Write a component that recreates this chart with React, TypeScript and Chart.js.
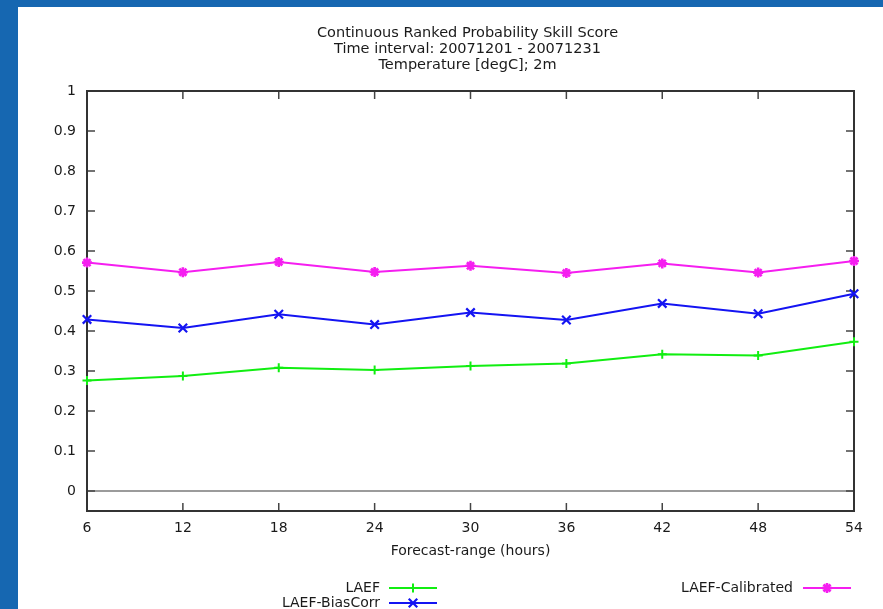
import React, { useEffect, useRef } from "react";
import { Chart, registerables } from "chart.js";

Chart.register(...registerables);

// Forecast ranges (hours) and CRPSS per system
const HOURS = [6, 12, 18, 24, 30, 36, 42, 48, 54];
const LAEF = [0.276, 0.2875, 0.308, 0.3025, 0.3125, 0.319, 0.342, 0.339, 0.373];
const LAEF_BIASCORR = [0.429, 0.4075, 0.442, 0.416, 0.446, 0.4275, 0.469, 0.443, 0.493];
const LAEF_CALIBRATED = [0.571, 0.547, 0.5725, 0.5475, 0.563, 0.545, 0.569, 0.546, 0.575];

const X_TICKS = [6, 12, 18, 24, 30, 36, 42, 48, 54];
const Y_TICKS = [0, 0.1, 0.2, 0.3, 0.4, 0.5, 0.6, 0.7, 0.8, 0.9, 1];

const TITLE_LINES = [
  "Continuous Ranked Probability Skill Score",
  "Time interval: 20071201 - 20071231",
  "Temperature [degC]; 2m",
];
const X_TITLE = "Forecast-range (hours)";

const FONT_FAMILY = '"DejaVu Sans", sans-serif';
const TEXT_COLOR = "#1a1a1a";

function drawMarker(ctx: CanvasRenderingContext2D, style: string, x: number, y: number, r: number) {
  ctx.beginPath();
  const d = r * Math.SQRT1_2;
  if (style === "cross" || style === "star") {
    ctx.moveTo(x - r, y);
    ctx.lineTo(x + r, y);
    ctx.moveTo(x, y - r);
    ctx.lineTo(x, y + r);
  }
  if (style === "crossRot" || style === "star") {
    ctx.moveTo(x - d, y - d);
    ctx.lineTo(x + d, y + d);
    ctx.moveTo(x - d, y + d);
    ctx.lineTo(x + d, y - d);
  }
  ctx.stroke();
}

// Frame, inward ticks, zero line, multi-line title and a two-column legend
const decorPlugin = {
  id: "decor",
  beforeDatasetsDraw(chart: any) {
    const { ctx, chartArea: a, scales } = chart;
    ctx.save();
    const line = (x1: number, y1: number, x2: number, y2: number) => {
      ctx.beginPath();
      ctx.moveTo(x1, y1);
      ctx.lineTo(x2, y2);
      ctx.stroke();
    };
    const y0 = scales.y.getPixelForValue(0);
    ctx.strokeStyle = "#7a7a7a";
    ctx.lineWidth = 1.5;
    line(a.left, y0, a.right, y0);

    ctx.strokeStyle = "#444";
    ctx.lineWidth = 1.5;
    for (const v of Y_TICKS) {
      const y = scales.y.getPixelForValue(v);
      line(a.left, y, a.left + 8, y);
      line(a.right, y, a.right - 8, y);
    }
    for (const v of X_TICKS) {
      const x = scales.x.getPixelForValue(v);
      line(x, a.bottom, x, a.bottom - 8);
      line(x, a.top, x, a.top + 8);
    }
    ctx.strokeStyle = "#333";
    ctx.lineWidth = 2;
    ctx.strokeRect(a.left, a.top, a.right - a.left, a.bottom - a.top);
    ctx.restore();
  },
  afterDraw(chart: any) {
    const { ctx, chartArea: a } = chart;
    ctx.save();
    ctx.fillStyle = TEXT_COLOR;
    ctx.font = `14.5px ${FONT_FAMILY}`;
    ctx.textAlign = "center";
    ctx.textBaseline = "middle";
    const cx = (a.left + a.right) / 2 - 3;
    TITLE_LINES.forEach((t, i) => ctx.fillText(t, cx, a.top - 58 + i * 16));

    ctx.font = `14px ${FONT_FAMILY}`;
    const slots = [
      { textRight: 362, from: 371, to: 419, y: a.bottom + 77 },
      { textRight: 362, from: 371, to: 419, y: a.bottom + 92 },
      { textRight: 775, from: 785, to: 833, y: a.bottom + 77 },
    ];
    chart.data.datasets.forEach((ds: any, i: number) => {
      const s = slots[i];
      ctx.textAlign = "right";
      ctx.fillStyle = TEXT_COLOR;
      ctx.fillText(ds.label, s.textRight, s.y);
      ctx.strokeStyle = ds.borderColor;
      ctx.lineWidth = 2;
      ctx.beginPath();
      ctx.moveTo(s.from, s.y);
      ctx.lineTo(s.to, s.y);
      ctx.stroke();
      ctx.lineWidth = ds.pointBorderWidth;
      drawMarker(ctx, ds.pointStyle, (s.from + s.to) / 2, s.y, ds.pointRadius);
    });
    ctx.restore();
  },
};

export default function App() {
  const canvasRef = useRef<HTMLCanvasElement | null>(null);

  useEffect(() => {
    const canvas = canvasRef.current;
    if (!canvas) return;
    const font = { family: FONT_FAMILY, size: 14 };
    const series = (label: string, values: number[], color: string, style: string, r: number, bw: number) => ({
      label,
      data: HOURS.map((h, i) => ({ x: h, y: values[i] })),
      borderColor: color,
      backgroundColor: color,
      borderWidth: 2,
      pointStyle: style,
      pointRadius: r,
      pointBorderWidth: bw,
      pointBorderColor: color,
      tension: 0,
      clip: false as any,
    });
    const chart = new Chart(canvas, {
      type: "line",
      data: {
        datasets: [
          series("LAEF", LAEF, "#11ee11", "cross", 4.5, 2),
          series("LAEF-BiasCorr", LAEF_BIASCORR, "#1414f2", "crossRot", 6, 2.2),
          series("LAEF-Calibrated", LAEF_CALIBRATED, "#f51ef0", "star", 5, 2.6),
        ],
      },
      options: {
        animation: false,
        responsive: false,
        devicePixelRatio: 1,
        layout: { padding: { top: 84, right: 29, bottom: 38, left: 0 } },
        plugins: {
          legend: { display: false },
          title: { display: false },
          tooltip: { enabled: false },
        },
        scales: {
          x: {
            type: "linear",
            min: 6,
            max: 54,
            afterBuildTicks: (s: any) => {
              s.ticks = X_TICKS.map((v) => ({ value: v }));
            },
            afterFit: (s: any) => {
              s.height = 60;
            },
            grid: { display: false, drawTicks: false },
            border: { display: false },
            ticks: {
              font,
              color: TEXT_COLOR,
              padding: 9,
              maxRotation: 0,
              autoSkip: false,
              callback: (v: any) => String(v),
            },
            title: {
              display: true,
              text: X_TITLE,
              font,
              color: TEXT_COLOR,
              padding: { top: 4, bottom: 11 },
            },
          },
          y: {
            type: "linear",
            min: -0.05,
            max: 1,
            afterBuildTicks: (s: any) => {
              s.ticks = Y_TICKS.map((v) => ({ value: v }));
            },
            afterFit: (s: any) => {
              s.width = 69;
            },
            grid: { display: false, drawTicks: false },
            border: { display: false },
            ticks: {
              font,
              color: TEXT_COLOR,
              padding: 11,
              autoSkip: false,
              callback: (v: any) => String(v),
            },
          },
        },
      },
      plugins: [decorPlugin],
    });
    return () => chart.destroy();
  }, []);

  return (
    <div style={{ position: "fixed", inset: 0, background: "#1667b1" }}>
      <div
        style={{
          position: "absolute",
          left: 18,
          top: 7,
          right: 0,
          bottom: 0,
          background: "#ffffff",
          overflow: "hidden",
        }}
      >
        <canvas ref={canvasRef} width={865} height={602} style={{ display: "block" }} />
      </div>
    </div>
  );
}
